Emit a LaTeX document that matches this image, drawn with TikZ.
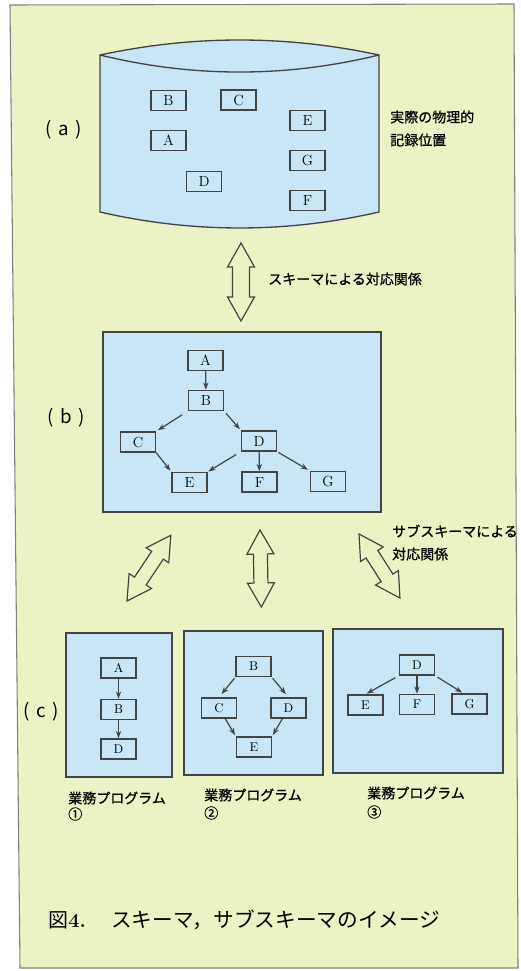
\documentclass[tikz,border=0pt]{standalone}
\usepackage{fontspec}
\newfontfamily\jp{Noto Sans CJK JP}[FakeBold=0.8]
\newfontfamily\jpr{Noto Sans CJK JP}
\usetikzlibrary{arrows.meta}
\definecolor{bgc}{RGB}{235,243,196}
\definecolor{blu}{RGB}{200,230,246}
\definecolor{ink}{RGB}{68,68,68}
\tikzset{
  box/.style={draw=ink, line width=1.1pt, inner sep=0pt, minimum width=26.25pt, minimum height=15pt, font=\fontsize{11}{11}\selectfont},
  sbox/.style={box, font=\fontsize{9.5}{9.5}\selectfont},
  panel/.style={draw=ink, line width=1pt, fill=blu},
  conn/.style={-{Stealth[length=5.5pt,width=4pt]}, draw=ink, line width=0.9pt},
  arr/.style={draw=ink, line width=0.9pt, line join=miter},
  jtext/.style={font=\jp\fontsize{10.5}{12}\selectfont, inner sep=0pt, anchor=west},
  plabel/.style={font=\jpr\fontsize{14}{14}\selectfont, inner sep=0pt},
  pics/dbl/.style n args={2}{code={
    \draw[arr] (0,0) -- (24,13.5) -- (24,#2) -- (#1-24,#2) -- (#1-24,13.5) -- (#1,0)
      -- (#1-24,-13.5) -- (#1-24,-#2) -- (24,-#2) -- (24,-13.5) -- cycle;}}
}
\begin{document}
\begin{tikzpicture}[x=0.75pt,y=-0.75pt]
\useasboundingbox (0,0) rectangle (521,971);
\fill[white] (0,0) rectangle (521,971);
\draw[fill=bgc, draw=gray, line width=0.8pt] (10,5) -- (514,4) -- (518,968) -- (20,968) -- cycle;

% (a) cylinder
\draw[panel] (100,55) .. controls (193,35) and (286,35) .. (379,55) -- (379,212)
  .. controls (286,233.3) and (193,233.3) .. (100,212) -- cycle;
\draw[ink, line width=1pt] (100,55) .. controls (193,77.7) and (286,77.7) .. (379,55);
\node[box] (aB) at (168.5,100.5) {B};
\node[box] (aC) at (238.5,100) {C};
\node[box] (aE) at (307.5,120.5) {E};
\node[box] (aA) at (168.5,140.5) {A};
\node[box] (aG) at (307.5,160.5) {G};
\node[box] (aD) at (204,181.5) {D};
\node[box] (aF) at (307.5,200.5) {F};
\node[plabel] (la) at (64,130) {(\hspace{0.35em}a\hspace{0.35em})};
\node[jtext] (t1) at (390,117) {実際の物理的};
\node[jtext] (t2) at (390,140) {記録位置};

% arrow a-b
\coordinate (ab1) at (241,243);
\pic[rotate=-90] at (ab1) {dbl={78}{8.5}};
\node[jtext] (t3) at (268,279) {スキーマによる対応関係};

% (b)
\draw[panel] (103,332) rectangle (381,512);
\node[plabel] (lb) at (66.5,418) {(\hspace{0.35em}b\hspace{0.35em})};
\node[box] (bA) at (205.5,360.5) {A};
\node[box] (bB) at (206,400.5) {B};
\node[box] (bC) at (138,442) {C};
\node[box] (bD) at (259,441) {D};
\node[box] (bE) at (189.5,482.5) {E};
\node[box] (bF) at (259.5,482) {F};
\node[box] (bG) at (328,481.5) {G};
\draw[conn] (bA) -- (bB);
\draw[conn, shorten <=5pt, shorten >=1.5pt] (bB.south west) -- (bC.north east);
\draw[conn, shorten <=2pt, shorten >=1pt] (bB.south east) -- (bD.north west);
\draw[conn, shorten >=1pt] (bC.south east) -- (bE.north west);
\draw[conn, shorten <=4pt, shorten >=0.5pt] (bD.south west) -- (bE.north east);
\draw[conn] (bD) -- (bF);
\draw[conn, shorten <=1pt, shorten >=1.5pt] (bD.south east) -- (bG.north west);

% arrows b-c
\coordinate (bc1) at (127,601);
\coordinate (bc2) at (260,530);
\coordinate (bc3) at (359,534);
\pic[rotate=56.3] at (bc1) {dbl={79}{7}};
\pic[rotate=-89] at (bc2) {dbl={77}{7}};
\pic[rotate=-57.4] at (bc3) {dbl={76}{7}};
\node[jtext] (t4) at (392,531) {サブスキーマによる};
\node[jtext] (t5) at (392,554) {対応関係};

% (c)
\node[plabel] (lc) at (41,712) {(\hspace{0.35em}c\hspace{0.35em})};
\draw[panel] (66,633) rectangle (172,777);
\draw[panel] (184,631) rectangle (323,775);
\draw[panel] (333,629) rectangle (503,773);

\node[sbox] (c1A) at (118.5,668) {A};
\node[sbox] (c1B) at (118.5,709.5) {B};
\node[sbox] (c1D) at (118.5,749) {D};
\draw[conn] (c1A) -- (c1B);
\draw[conn] (c1B) -- (c1D);

\node[sbox] (c2B) at (253.5,666.5) {B};
\node[sbox] (c2C) at (219,708) {C};
\node[sbox] (c2D) at (288.5,708) {D};
\node[sbox] (c2E) at (254,747) {E};
\draw[conn, shorten <=1pt, shorten >=3pt] (c2B.south west) -- (c2C.north);
\draw[conn, shorten <=1pt, shorten >=3pt] (c2B.south east) -- (c2D.north);
\draw[conn, shorten >=1pt] (c2C.-60) -- (c2E.north west);
\draw[conn, shorten >=1pt] (c2D.-120) -- (c2E.north east);

\node[sbox] (c3D) at (417,665) {D};
\node[sbox] (c3E) at (365.5,705) {E};
\node[sbox] (c3F) at (417,704.5) {F};
\node[sbox] (c3G) at (469.5,704) {G};
\draw[conn, shorten <=3pt, shorten >=1pt] (c3D.south west) -- (c3E.north);
\draw[conn] (c3D) -- (c3F);
\draw[conn, shorten <=2pt, shorten >=1pt] (c3D.south east) -- (c3G.120);

\node[jtext] (p1) at (68,798) {業務プログラム};
\node[jtext] (n1) at (68,814) {①};
\node[jtext] (p2) at (204,795) {業務プログラム};
\node[jtext] (n2) at (204,813) {②};
\node[jtext] (p3) at (367,793) {業務プログラム};
\node[jtext] (n3) at (367,812) {③};

% caption
\node[inner sep=0pt, anchor=west] (cap) at (48,920)
  {{\jpr\fontsize{15}{15}\selectfont 図}{\fontsize{15}{15}\selectfont\bfseries 4.}\hspace{19pt}{\jpr\fontsize{15.5}{15.5}\selectfont スキーマ，サブスキーマのイメージ}};
\end{tikzpicture}
\end{document}
